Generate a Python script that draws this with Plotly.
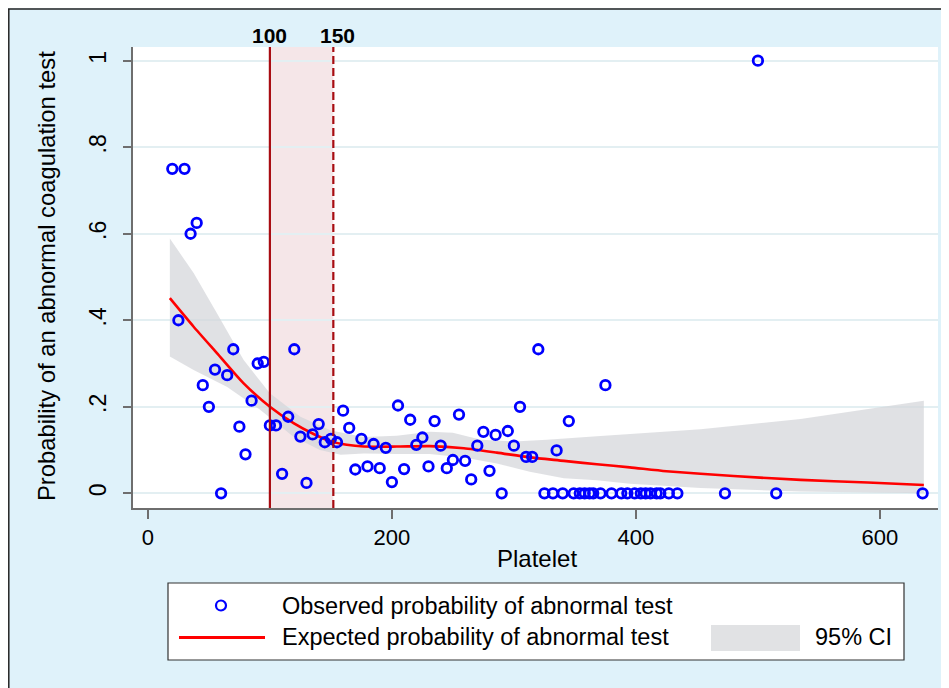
import plotly.graph_objects as go

# ---------------- data ----------------
obs_platelet = [20, 30, 35, 40, 25, 70, 55, 65, 45, 50, 85, 90, 95, 120, 75, 80, 60,
                100, 105, 115, 110, 125, 130, 135, 140, 145, 150, 155, 160, 165, 170,
                175, 180, 185, 190, 195, 200, 205, 210, 215, 220, 225, 230, 235, 240,
                245, 250, 255, 260, 265, 270, 275, 280, 285, 290, 295, 300, 305, 310,
                315, 320, 335, 345, 375, 500,
                325, 332, 340, 349, 354, 358, 362, 365, 371, 380, 388, 393, 399, 404,
                408, 412, 417, 420, 427, 434, 473, 515, 635]
obs_prob = [0.75, 0.75, 0.6, 0.625, 0.4, 0.333, 0.286, 0.273, 0.25, 0.2, 0.214, 0.3, 0.304,
            0.333, 0.154, 0.09, 0.0,
            0.157, 0.157, 0.177, 0.045, 0.131, 0.024, 0.136, 0.16, 0.118, 0.126, 0.118,
            0.191, 0.151, 0.055, 0.126, 0.062, 0.114, 0.058, 0.105, 0.026, 0.203, 0.056,
            0.17, 0.112, 0.129, 0.062, 0.167, 0.11, 0.058, 0.077, 0.182, 0.075, 0.032,
            0.11, 0.142, 0.052, 0.135, 0.0, 0.144, 0.11, 0.2, 0.084, 0.084, 0.333, 0.099,
            0.167, 0.25, 1.0,
            0, 0, 0, 0, 0, 0, 0, 0, 0, 0, 0, 0, 0, 0, 0, 0, 0, 0, 0, 0, 0, 0, 0]

fit_platelet = [18, 37.5, 56.6, 78.5, 100, 119.4, 135.8, 150, 163, 177, 204, 231, 259,
                286, 313, 341, 368, 395, 425, 480, 535, 590, 636]
fit_prob = [0.451, 0.385, 0.324, 0.254, 0.2, 0.162, 0.137, 0.12, 0.112, 0.108, 0.108,
            0.109, 0.104, 0.094, 0.083, 0.075, 0.067, 0.06, 0.051, 0.04, 0.031, 0.025, 0.019]

ci_hi_platelet = [18, 37.5, 56.6, 78.5, 100, 125, 150, 177, 204, 231, 250, 273, 300, 327,
                  368, 395, 453, 535, 636]
ci_hi = [0.589, 0.509, 0.416, 0.308, 0.231, 0.177, 0.145, 0.13, 0.133, 0.142, 0.14, 0.124,
         0.12, 0.124, 0.132, 0.137, 0.148, 0.172, 0.214]
ci_lo_platelet = [18, 37.5, 65, 92, 119, 141, 158, 177, 204, 231, 259, 286, 313, 341, 368,
                  395, 425, 453, 535, 636]
ci_lo = [0.316, 0.285, 0.246, 0.193, 0.131, 0.1, 0.089, 0.092, 0.091, 0.091, 0.083, 0.069,
         0.05, 0.035, 0.03, 0.022, 0.016, 0.012, 0.004, 0.0]

cutoff_lines = [100, 152]
cutoff_labels = ["100", "150"]

x_tickvals = [0, 200, 400, 600]
y_tickvals = [0, 0.2, 0.4, 0.6, 0.8, 1]
y_ticktext = ["0", ".2", ".4", ".6", ".8", "1"]

legend_labels = ["Observed probability of abnormal test",
                 "Expected probability of abnormal test", "95% CI"]

# ---------------- layout geometry ----------------
W, H = 949, 688
OFF = 8                      # page body margin
L, R, T, B = 125, 19, 39, 188
PW, PH = W - L - R, H - T - B
FONT = "Liberation Sans, Arial, sans-serif"
BG = "#dff2fa"


def px(xs):
    """screen x -> paper fraction"""
    return (xs - OFF - L) / PW


def py(ys):
    """screen y -> paper fraction"""
    return (H - B - (ys - OFF)) / PH


fig = go.Figure()

# CI band
fig.add_trace(go.Scatter(
    x=ci_hi_platelet + ci_lo_platelet[::-1],
    y=ci_hi + ci_lo[::-1],
    fill="toself", fillcolor="rgba(212,213,217,0.72)",
    line=dict(width=0), mode="lines", hoverinfo="skip", showlegend=False))

# fitted curve
fig.add_trace(go.Scatter(
    x=fit_platelet, y=fit_prob, mode="lines",
    line=dict(color="#ff0000", width=2.6, shape="spline", smoothing=0.6),
    showlegend=False))

# observed
fig.add_trace(go.Scatter(
    x=obs_platelet, y=obs_prob, mode="markers",
    marker=dict(symbol="circle-open", size=9.5, color="#0000ff",
                line=dict(width=2.8, color="#0000ff")),
    showlegend=False))

shapes = []
shapes.append(dict(type="rect", xref="x", yref="paper", x0=cutoff_lines[0], x1=cutoff_lines[1],
                   y0=0, y1=1, fillcolor="rgba(190,100,110,0.16)", line=dict(width=0), layer="below"))
shapes.append(dict(type="line", xref="x", yref="paper", x0=cutoff_lines[0], x1=cutoff_lines[0],
                   y0=0, y1=1, line=dict(color="#a80c12", width=2.2), layer="above"))
shapes.append(dict(type="line", xref="x", yref="paper", x0=cutoff_lines[1], x1=cutoff_lines[1],
                   y0=0, y1=1, line=dict(color="#a80c12", width=2.2, dash="8px,4px"), layer="above"))

# outer frame border (top and left)
shapes.append(dict(type="line", xref="paper", yref="paper", x0=px(7), x1=px(W + 40),
                   y0=py(9), y1=py(9), line=dict(color="#222", width=1.5)))
shapes.append(dict(type="line", xref="paper", yref="paper", x0=px(8.8), x1=px(8.8),
                   y0=py(9), y1=py(H + 40), line=dict(color="#222", width=1.5)))

# legend box
shapes.append(dict(type="rect", xref="paper", yref="paper", x0=px(168), x1=px(904),
                   y0=py(660), y1=py(583), fillcolor="white", line=dict(color="#333", width=1.2)))
shapes.append(dict(type="circle", xref="paper", yref="paper", x0=px(216), x1=px(226),
                   y0=py(610.5), y1=py(600.5), line=dict(color="#0000ff", width=2.2)))
shapes.append(dict(type="line", xref="paper", yref="paper", x0=px(179), x1=px(265),
                   y0=py(637.5), y1=py(637.5), line=dict(color="#ff0000", width=3)))
shapes.append(dict(type="rect", xref="paper", yref="paper", x0=px(711), x1=px(800),
                   y0=py(651), y1=py(625), fillcolor="#e1e2e4", line=dict(width=0)))

annotations = []
for xv, lab, shift in zip(cutoff_lines, cutoff_labels, [0, 4]):
    annotations.append(dict(x=xv, y=py(35.5), xref="x", yref="paper", text="<b>%s</b>" % lab,
                            showarrow=False, xanchor="center", yanchor="middle", xshift=shift,
                            font=dict(family=FONT, size=21, color="black")))
for lab, xs, ys in [(legend_labels[0], 280, 606), (legend_labels[1], 280, 637),
                    (legend_labels[2], 813, 637)]:
    annotations.append(dict(x=px(xs), y=py(ys), xref="paper", yref="paper", text=lab,
                            showarrow=False, xanchor="left", yanchor="middle",
                            font=dict(family=FONT, size=23.5, color="black")))
# axis titles
annotations.append(dict(x=px(46), y=py(276), xref="paper", yref="paper",
                        text="Probability of an abnormal coagulation test", textangle=-90,
                        showarrow=False, xanchor="center", yanchor="middle",
                        font=dict(family=FONT, size=23.8, color="black")))
annotations.append(dict(x=px(537), y=py(558), xref="paper", yref="paper", text="Platelet",
                        showarrow=False, xanchor="center", yanchor="middle",
                        font=dict(family=FONT, size=24, color="black")))

fig.update_layout(
    width=W, height=H,
    margin=dict(l=L, r=R, t=T, b=B, pad=0),
    paper_bgcolor=BG, plot_bgcolor="white",
    showlegend=False,
    shapes=shapes, annotations=annotations,
    font=dict(family=FONT, size=22, color="black"),
    xaxis=dict(range=[-12.2, 647.6], tickvals=x_tickvals, showgrid=False, zeroline=False,
               showline=True, linecolor="#6e6e6e", linewidth=1.5,
               ticks="outside", ticklen=9, tickwidth=1.5, tickcolor="#6e6e6e",
               tickfont=dict(family=FONT, size=22, color="black")),
    yaxis=dict(range=[-0.034, 1.0317], tickvals=y_tickvals, ticktext=y_ticktext,
               tickangle=-90, showgrid=True, gridcolor="#e3eff2", gridwidth=2, zeroline=False,
               showline=True, linecolor="#6e6e6e", linewidth=1.5,
               ticks="outside", ticklen=8, tickwidth=1.5, tickcolor="#6e6e6e",
               ticklabelstandoff=8,
               tickfont=dict(family=FONT, size=23, color="black")),
)

fig.write_html("out.html")
